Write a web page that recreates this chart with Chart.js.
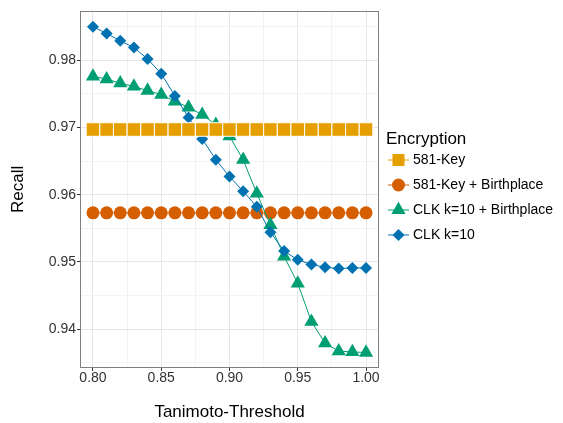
<!DOCTYPE html>
<html>
<head>
<meta charset="utf-8">
<script src="https://cdn.jsdelivr.net/npm/chart.js@4"></script>
<style>
  html, body { margin: 0; padding: 0; background: #fff; }
  #wrap { width: 563px; height: 423px; }
</style>
</head>
<body>
<div id="wrap"><canvas id="recallChart" width="563" height="423"></canvas></div>
<script>
// Data
const thresholds = [0.80, 0.81, 0.82, 0.83, 0.84, 0.85, 0.86, 0.87, 0.88, 0.89, 0.90,
                    0.91, 0.92, 0.93, 0.94, 0.95, 0.96, 0.97, 0.98, 0.99, 1.00];
const key581 = [0.9697, 0.9697, 0.9697, 0.9697, 0.9697, 0.9697, 0.9697, 0.9697, 0.9697, 0.9697, 0.9697,
                0.9697, 0.9697, 0.9697, 0.9697, 0.9697, 0.9697, 0.9697, 0.9697, 0.9697, 0.9697];
const key581Birth = [0.9573, 0.9573, 0.9573, 0.9573, 0.9573, 0.9573, 0.9573, 0.9573, 0.9573, 0.9573, 0.9573,
                     0.9573, 0.9573, 0.9573, 0.9573, 0.9573, 0.9573, 0.9573, 0.9573, 0.9573, 0.9573];
const clkBirth = [0.9776, 0.9772, 0.9766, 0.9761, 0.9755, 0.9749, 0.9739, 0.9730, 0.9719, 0.9704, 0.9687,
                  0.9652, 0.9602, 0.9555, 0.9508, 0.9468, 0.9411, 0.9379, 0.9367, 0.9366, 0.9365];
const clk10 = [0.9850, 0.9840, 0.9829, 0.9819, 0.9802, 0.9780, 0.9747, 0.9715, 0.9683, 0.9652, 0.9627,
               0.9605, 0.9582, 0.9544, 0.9516, 0.9503, 0.9496, 0.9492, 0.9490, 0.9491, 0.9491];

const xTicks = [0.800, 0.825, 0.850, 0.875, 0.900, 0.925, 0.950, 0.975, 1.000];
const yTicks = [0.935, 0.940, 0.945, 0.950, 0.955, 0.960, 0.965, 0.970, 0.975, 0.980, 0.985];

const seriesNames = ['581-Key', '581-Key + Birthplace', 'CLK k=10 + Birthplace', 'CLK k=10'];
const seriesColors = ['#E69F00', '#D55E00', '#009E73', '#0072B2'];

Chart.defaults.font.family = "'Liberation Sans', Arial, sans-serif";
Chart.defaults.animation = false;

function toPoints(values) {
  return thresholds.map((t, i) => ({ x: t, y: values[i] }));
}

function isMajor(v, step) {
  return Math.abs(Math.round(v / step) * step - v) < 1e-6;
}

// legend + panel border drawn on the canvas
const decorPlugin = {
  id: 'decor',
  afterDraw(chart) {
    const ctx = chart.ctx;
    const a = chart.chartArea;
    ctx.save();
    ctx.strokeStyle = '#7f7f7f';
    ctx.lineWidth = 1;
    ctx.strokeRect(Math.round(a.left) + 0.5, Math.round(a.top) + 0.5,
                   Math.round(a.right - a.left) - 1, Math.round(a.bottom - a.top) - 1);

    ctx.fillStyle = '#000';
    ctx.font = "17px 'Liberation Sans', Arial, sans-serif";
    ctx.textBaseline = 'middle';
    ctx.fillText('Encryption', 386, 139);

    const rows = [160, 185, 210, 235];
    ctx.font = "14px 'Liberation Sans', Arial, sans-serif";
    chart.data.datasets.forEach((ds, i) => {
      const y = rows[i];
      ctx.strokeStyle = ds.borderColor;
      ctx.lineWidth = 1;
      ctx.beginPath();
      ctx.moveTo(388, y);
      ctx.lineTo(409, y);
      ctx.stroke();
      ctx.fillStyle = ds.borderColor;
      Chart.helpers.drawPoint(ctx, {
        pointStyle: ds.pointStyle,
        radius: ds.legendRadius,
        rotation: 0,
        borderWidth: 0
      }, 398.5, y);
      ctx.fillStyle = '#000';
      ctx.fillText(ds.label, 413, y);
    });
    ctx.restore();
  }
};

const ctx = document.getElementById('recallChart').getContext('2d');
new Chart(ctx, {
  type: 'line',
  data: {
    datasets: [
      {
        label: seriesNames[0],
        data: toPoints(key581),
        borderColor: seriesColors[0],
        backgroundColor: seriesColors[0],
        pointStyle: 'rect',
        pointRadius: 9.6,
        pointBorderColor: '#ffffff',
        pointBorderWidth: 1,
        borderWidth: 1,
        legendRadius: 8.5,
        order: 0
      },
      {
        label: seriesNames[1],
        data: toPoints(key581Birth),
        borderColor: seriesColors[1],
        backgroundColor: seriesColors[1],
        pointStyle: 'circle',
        pointRadius: 6.5,
        pointBorderWidth: 0,
        borderWidth: 1,
        legendRadius: 6.5,
        order: 3
      },
      {
        label: seriesNames[2],
        data: toPoints(clkBirth),
        borderColor: seriesColors[2],
        backgroundColor: seriesColors[2],
        pointStyle: 'triangle',
        pointRadius: 8.2,
        pointBorderWidth: 0,
        borderWidth: 1,
        legendRadius: 8.2,
        order: 2
      },
      {
        label: seriesNames[3],
        data: toPoints(clk10),
        borderColor: seriesColors[3],
        backgroundColor: seriesColors[3],
        pointStyle: 'rectRot',
        pointRadius: 6,
        pointBorderWidth: 0,
        borderWidth: 1,
        legendRadius: 6,
        order: 1
      }
    ]
  },
  options: {
    responsive: false,
    events: [],
    layout: { padding: { top: 10, right: 184, left: 0, bottom: 0 } },
    plugins: {
      legend: { display: false },
      tooltip: { enabled: false }
    },
    scales: {
      x: {
        type: 'linear',
        min: 0.7905,
        max: 1.0095,
        afterBuildTicks(scale) { scale.ticks = xTicks.map(v => ({ value: v })); },
        afterFit(scale) { scale.height = 55; },
        border: { display: false },
        grid: {
          color: c => isMajor(c.tick.value, 0.05) ? '#e6e6e6' : '#f3f3f3',
          tickColor: c => isMajor(c.tick.value, 0.05) ? '#333333' : 'rgba(0,0,0,0)',
          tickLength: 3
        },
        ticks: {
          autoSkip: false,
          maxRotation: 0,
          padding: -1,
          color: '#333333',
          font: { size: 14 },
          callback: v => isMajor(v, 0.05) ? v.toFixed(2) : ''
        },
        title: {
          display: true,
          text: 'Tanimoto-Threshold',
          color: '#000',
          font: { size: 17 },
          padding: { top: 0, bottom: 0 }
        }
      },
      y: {
        type: 'linear',
        min: 0.9342,
        max: 0.9874,
        afterBuildTicks(scale) { scale.ticks = yTicks.map(v => ({ value: v })); },
        afterFit(scale) { scale.width = 80; },
        border: { display: false },
        grid: {
          color: c => isMajor(c.tick.value, 0.01) ? '#e6e6e6' : '#f3f3f3',
          tickColor: c => isMajor(c.tick.value, 0.01) ? '#333333' : 'rgba(0,0,0,0)',
          tickLength: 3
        },
        ticks: {
          autoSkip: false,
          padding: 1,
          color: '#333333',
          font: { size: 14 },
          callback: v => isMajor(v, 0.01) ? v.toFixed(2) : ''
        },
        title: {
          display: true,
          text: 'Recall',
          color: '#000',
          font: { size: 17 },
          padding: { top: 8, bottom: 0 }
        }
      }
    }
  },
  plugins: [decorPlugin]
});
</script>
</body>
</html>
